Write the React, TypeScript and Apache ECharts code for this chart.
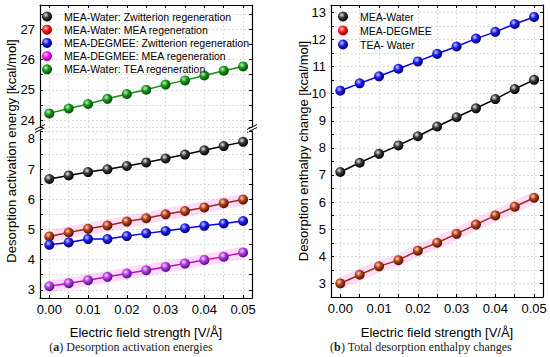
import React, { useEffect, useRef } from "react";
import * as echarts from "echarts";

const xValues = [0, 0.005, 0.01, 0.015, 0.02, 0.025, 0.03, 0.035, 0.04, 0.045, 0.05];

// Panel (a): desorption activation energies [kcal/mol]
const mwZwitterion = [6.67, 6.79, 6.9, 6.99, 7.1, 7.22, 7.35, 7.48, 7.62, 7.76, 7.9];
const mwMea = [4.77, 4.9, 5.02, 5.13, 5.26, 5.37, 5.5, 5.61, 5.73, 5.87, 5.99];
const mdZwitterion = [4.49, 4.57, 4.68, 4.68, 4.78, 4.87, 4.95, 5.04, 5.12, 5.2, 5.28];
const mdMea = [3.12, 3.22, 3.32, 3.43, 3.54, 3.65, 3.76, 3.87, 3.99, 4.1, 4.24];
const mwTea = [24.22, 24.38, 24.53, 24.7, 24.86, 25.0, 25.17, 25.31, 25.47, 25.63, 25.77];

// Panel (b): total desorption enthalpy changes [kcal/mol]
const enMeaWater = [7.11, 7.45, 7.78, 8.09, 8.43, 8.79, 9.13, 9.46, 9.8, 10.17, 10.51];
const enMeaDegmee = [3.0, 3.32, 3.63, 3.86, 4.21, 4.5, 4.83, 5.17, 5.51, 5.83, 6.16];
const enTeaWater = [10.11, 10.38, 10.64, 10.92, 11.19, 11.47, 11.74, 12.03, 12.28, 12.57, 12.83];

const leftNames = [
  "MEA-Water: Zwitterion regeneration",
  "MEA-Water: MEA regeneration",
  "MEA-DEGMEE: Zwitterion regeneration",
  "MEA-DEGMEE: MEA regeneration",
  "MEA-Water: TEA regeneration",
];
const rightNames = ["MEA-Water", "MEA-DEGMEE", "TEA- Water"];

const FONT = "Liberation Sans, Arial, sans-serif";

const sphere = (hi: string, mid: string, dark: string) => ({
  type: "radial",
  x: 0.38,
  y: 0.35,
  r: 0.65,
  colorStops: [
    { offset: 0, color: hi },
    { offset: 0.45, color: mid },
    { offset: 1, color: dark },
  ],
});

const C = {
  black: { line: "#000000", ball: sphere("#e8e8e8", "#3a3a3a", "#000000") },
  red: { line: "#a02a10", ball: sphere("#ffd6b8", "#b8401c", "#4a1500") },
  blue: { line: "#0000f0", ball: sphere("#c8c8ff", "#2020ee", "#00006a") },
  magenta: { line: "#d000d0", ball: sphere("#ffd0ff", "#b040e0", "#50107a") },
  green: { line: "#109010", ball: sphere("#c8f0c8", "#1a9a1a", "#004a00") },
};
const legendRed = sphere("#ffd0d0", "#ff1a1a", "#900000");
const legendMagenta = sphere("#ffe0ff", "#ff10ff", "#900090");

const pairs = (ys: number[]) => xValues.map((x, i) => [x, ys[i]]);

const xLabelFmt = (v: number) =>
  Math.abs(v * 100 - Math.round(v * 100)) < 1e-6 ? v.toFixed(2) : "";
const yLabelFmt = (v: number) =>
  Math.abs(v - Math.round(v)) < 1e-6 ? String(Math.round(v)) : "";

const splitStyle = { show: true, lineStyle: { color: "#dcdcdc", type: [2, 2], width: 1 } };

function xAxis(gridIndex: number, position: string, labels: boolean, grid: boolean) {
  return {
    type: "value",
    gridIndex,
    position,
    min: -0.0024,
    max: 0.0523,
    splitNumber: 11,
    axisLine: { show: true, onZero: false, lineStyle: { color: "#000", width: 1.2 } },
    axisTick: { show: true, inside: true, length: 3, lineStyle: { color: "#000" } },
    axisLabel: {
      show: labels,
      interval: 0,
      formatter: xLabelFmt,
      color: "#000",
      fontSize: 13,
      fontFamily: FONT,
      margin: 5,
    },
    splitLine: grid ? splitStyle : { show: false },
  };
}

function yAxis(gridIndex: number, position: string, min: number, max: number, labels: boolean, grid: boolean, split: number) {
  return {
    type: "value",
    gridIndex,
    position,
    min,
    max,
    splitNumber: split,
    axisLine: { show: true, onZero: false, lineStyle: { color: "#000", width: 1.2 } },
    axisTick: { show: true, inside: true, length: 3, lineStyle: { color: "#000" } },
    axisLabel: {
      show: labels,
      interval: 0,
      formatter: yLabelFmt,
      color: "#000",
      fontSize: 13,
      fontFamily: FONT,
      margin: 5,
    },
    splitLine: grid ? splitStyle : { show: false },
  };
}

function line(name: string, ys: number[], col: { line: string; ball: any }, xi: number, yi: number) {
  return {
    name,
    type: "line",
    xAxisIndex: xi,
    yAxisIndex: yi,
    data: pairs(ys),
    symbol: "circle",
    symbolSize: 10,
    itemStyle: { color: col.ball, borderWidth: 0 },
    lineStyle: { color: col.line, width: 1.5 },
    z: 3,
  };
}

function band(name: string, ys: number[], xi: number, yi: number) {
  return {
    name,
    type: "line",
    xAxisIndex: xi,
    yAxisIndex: yi,
    data: pairs(ys),
    symbol: "none",
    lineStyle: { color: "rgba(255,120,230,0.26)", width: 12 },
    z: 1,
    silent: true,
  };
}

export default function App() {
  const ref = useRef<HTMLDivElement>(null);
  useEffect(() => {
    if (!ref.current) return;
    const chart = echarts.init(ref.current, undefined, { renderer: "svg" });
    const breakMark = (x: number, y: number) => [
      { type: "line", shape: { x1: x - 5, y1: y + 1.5, x2: x + 5, y2: y - 3.5 }, style: { stroke: "#000", lineWidth: 1 } },
      { type: "line", shape: { x1: x - 5, y1: y + 4.5, x2: x + 5, y2: y - 0.5 }, style: { stroke: "#000", lineWidth: 1 } },
    ];
    const caption = (x: number, letter: string, rest: string) => ({
      type: "text",
      x,
      y: 347,
      style: {
        text: `(${"{b|" + letter + "}"}) ${rest}`,
        rich: {
          b: { fontWeight: "bold", fontSize: 12, fontFamily: "Liberation Serif, serif", fill: "#222" },
        },
        fontSize: 12,
        fontFamily: "Liberation Serif, serif",
        fill: "#222",
        textAlign: "center",
        textVerticalAlign: "middle",
      },
    });
    const label = (x: number, y: number, text: string, rot: number) => ({
      type: "text",
      x,
      y,
      rotation: rot,
      style: {
        text,
        fontSize: 13,
        fontFamily: FONT,
        fill: "#000",
        textAlign: "center",
        textVerticalAlign: "middle",
      },
    });
    const option: any = {
      animation: false,
      backgroundColor: "#fff",
      textStyle: { fontFamily: FONT },
      grid: [
        { left: 40, right: 298, top: 5, height: 122 },
        { left: 40, right: 298, top: 131, bottom: 59 },
        { left: 331, right: 7, top: 5, bottom: 60 },
      ],
      xAxis: [
        xAxis(0, "top", false, true),
        xAxis(1, "bottom", true, true),
        xAxis(2, "bottom", true, true),
        xAxis(2, "top", false, false),
      ],
      yAxis: [
        yAxis(0, "left", 23.77, 27.8, true, true, 8),
        yAxis(0, "right", 23.77, 27.8, false, false, 8),
        yAxis(1, "left", 2.73, 8.26, true, true, 11),
        yAxis(1, "right", 2.73, 8.26, false, false, 11),
        yAxis(2, "left", 2.5, 13.27, true, true, 21),
        yAxis(2, "right", 2.5, 13.27, false, false, 21),
      ],
      legend: [
        {
          data: [
            { name: leftNames[0] },
            { name: leftNames[1], itemStyle: { color: legendRed } },
            { name: leftNames[2] },
            { name: leftNames[3], itemStyle: { color: legendMagenta } },
            { name: leftNames[4] },
          ],
          orient: "vertical",
          left: 42,
          top: 11,
          padding: 0,
          icon: "circle",
          itemWidth: 10,
          itemHeight: 10,
          itemGap: 2.2,
          textStyle: { fontSize: 10.5, color: "#000", fontFamily: FONT, padding: [0, 0, 0, 7] },
        },
        {
          data: [
            { name: rightNames[0] },
            { name: rightNames[1], itemStyle: { color: legendRed } },
            { name: rightNames[2] },
          ],
          orient: "vertical",
          left: 338,
          top: 11,
          padding: 0,
          icon: "circle",
          itemWidth: 10,
          itemHeight: 10,
          itemGap: 3,
          textStyle: { fontSize: 10.5, color: "#000", fontFamily: FONT, padding: [0, 0, 0, 7] },
        },
      ],
      series: [
        band("band-mw-mea", mwMea, 1, 2),
        band("band-md-mea", mdMea, 1, 2),
        band("band-en-md", enMeaDegmee, 2, 4),
        line(leftNames[0], mwZwitterion, C.black, 1, 2),
        line(leftNames[1], mwMea, C.red, 1, 2),
        line(leftNames[2], mdZwitterion, C.blue, 1, 2),
        line(leftNames[3], mdMea, C.magenta, 1, 2),
        line(leftNames[4], mwTea, C.green, 0, 0),
        line(rightNames[0], enMeaWater, C.black, 2, 4),
        line(rightNames[1], enMeaDegmee, C.red, 2, 4),
        line(rightNames[2], enTeaWater, C.blue, 2, 4),
      ],
      graphic: [
        ...breakMark(40, 128),
        ...breakMark(252, 128),
        label(11, 151, "Desorption activation energy [kcal/mol]", Math.PI / 2),
        label(303, 151, "Desorption enthalpy change [kcal/mol]", Math.PI / 2),
        label(146, 332, "Electric field strength [V/Å]", 0),
        label(437, 332, "Electric field strength [V/Å]", 0),
        caption(131, "a", "Desorption activation energies"),
        caption(421, "b", "Total desorption enthalpy changes"),
      ],
    };
    chart.setOption(option);
    return () => chart.dispose();
  }, []);
  return <div ref={ref} style={{ width: 550, height: 357, position: "absolute", left: 0, top: 0 }} />;
}
